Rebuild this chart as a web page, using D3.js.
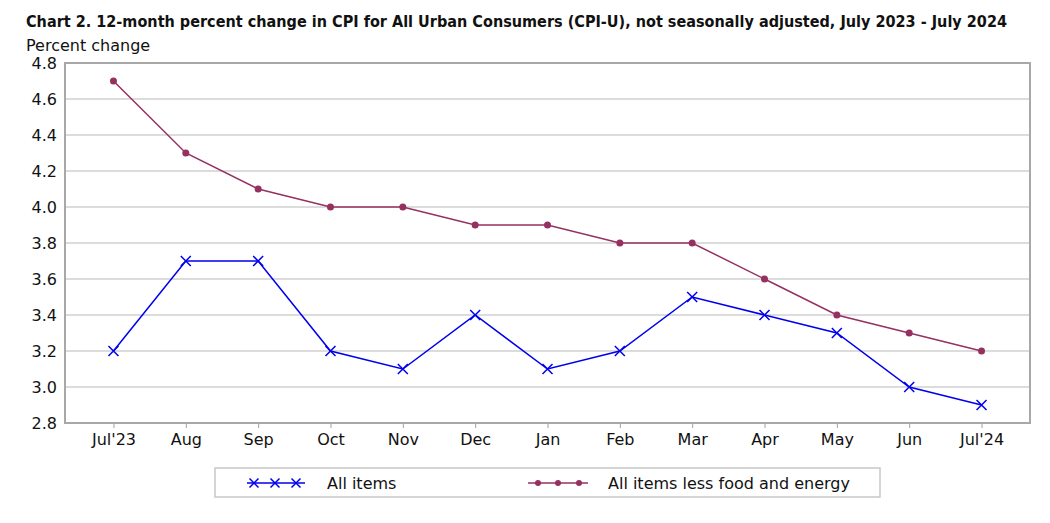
<!DOCTYPE html>
<html><head><meta charset="utf-8">
<script src="https://cdn.jsdelivr.net/npm/d3@7"></script>
<style>body{margin:0;background:#fff;} text{font-family:"DejaVu Sans",sans-serif;}</style>
</head><body>
<svg id="c" width="1050" height="523"></svg>
<script>
const months = ["Jul'23","Aug","Sep","Oct","Nov","Dec","Jan","Feb","Mar","Apr","May","Jun","Jul'24"];
const allItems = [3.2,3.7,3.7,3.2,3.1,3.4,3.1,3.2,3.5,3.4,3.3,3.0,2.9];
const coreItems = [4.7,4.3,4.1,4.0,4.0,3.9,3.9,3.8,3.8,3.6,3.4,3.3,3.2];
const yTicks = [2.8,3.0,3.2,3.4,3.6,3.8,4.0,4.2,4.4,4.6,4.8];
const seriesNames = ["All items","All items less food and energy"];

const svg = d3.select("#c");
const L=65,R=1030,T=63,B=423;
const x = d3.scalePoint().domain(months).range([L,R]).padding(0.67);
const y = d3.scaleLinear().domain([2.8,4.8]).range([B,T]);
const blue="#0000ee", purple="#953060";

svg.append("text").attr("x",26).attr("y",27).attr("font-weight","bold").attr("font-size",15)
  .attr("textLength",981).attr("lengthAdjust","spacingAndGlyphs").attr("fill","#111")
  .text("Chart 2. 12-month percent change in CPI for All Urban Consumers (CPI-U), not seasonally adjusted, July 2023 - July 2024");
svg.append("text").attr("x",26).attr("y",51).attr("font-size",16).attr("fill","#111").text("Percent change");

// grid
svg.append("g").selectAll("line").data(yTicks.slice(1,-1)).join("line")
  .attr("x1",L).attr("x2",R).attr("y1",d=>y(d)).attr("y2",d=>y(d))
  .attr("stroke","#d0d0d0").attr("stroke-width",1.5);

// y axis labels
const ya = svg.append("g").attr("transform",`translate(${L},0)`)
  .call(d3.axisLeft(y).tickValues(yTicks).tickFormat(d3.format(".1f")).tickSize(0).tickPadding(8));
ya.select(".domain").remove();
ya.selectAll("text").attr("font-size",16).attr("fill","#111").attr("font-family","DejaVu Sans");

// x axis
const xa = svg.append("g").attr("transform",`translate(0,${B})`)
  .call(d3.axisBottom(x).tickSize(5).tickPadding(6));
xa.select(".domain").remove();
xa.selectAll("line").attr("stroke","#a0a0a0");
xa.selectAll("text").attr("font-size",16).attr("fill","#111").attr("font-family","DejaVu Sans");

// border
svg.append("rect").attr("x",L).attr("y",T).attr("width",R-L).attr("height",B-T)
  .attr("fill","none").attr("stroke","#a8a8a8").attr("stroke-width",2);

const line = d3.line().x((d,i)=>x(months[i])).y(d=>y(d));
svg.append("path").datum(coreItems).attr("d",line).attr("fill","none").attr("stroke",purple).attr("stroke-width",1.5);
svg.append("g").selectAll("circle").data(coreItems).join("circle")
  .attr("cx",(d,i)=>x(months[i])).attr("cy",d=>y(d)).attr("r",3.5).attr("fill",purple);

svg.append("path").datum(allItems).attr("d",line).attr("fill","none").attr("stroke",blue).attr("stroke-width",1.5);
const cross = (g,cx,cy,s,col)=>{
  g.append("path").attr("d",`M${cx-s},${cy-s}L${cx+s},${cy+s}M${cx-s},${cy+s}L${cx+s},${cy-s}`)
   .attr("stroke",col).attr("stroke-width",1.5).attr("fill","none");
};
const cg = svg.append("g");
allItems.forEach((d,i)=>cross(cg,x(months[i]),y(d),5,blue));

// legend
const lg = svg.append("g");
lg.append("rect").attr("x",215).attr("y",468).attr("width",665).attr("height",29)
  .attr("fill","#fff").attr("stroke","#c8c8c8").attr("stroke-width",1.5);
const ly=483;
lg.append("line").attr("x1",247).attr("x2",305).attr("y1",ly).attr("y2",ly).attr("stroke",blue).attr("stroke-width",1.5);
[254,275,296].forEach(cx=>cross(lg,cx,ly,4.5,blue));
lg.append("text").attr("x",327).attr("y",ly+6).attr("font-size",16).attr("fill","#111").text(seriesNames[0]);
lg.append("line").attr("x1",528).attr("x2",588).attr("y1",ly).attr("y2",ly).attr("stroke",purple).attr("stroke-width",1.5);
[538,558,579].forEach(cx=>lg.append("circle").attr("cx",cx).attr("cy",ly).attr("r",3).attr("fill",purple));
lg.append("text").attr("x",608).attr("y",ly+6).attr("font-size",16).attr("fill","#111").text(seriesNames[1]);
</script>
</body></html>
